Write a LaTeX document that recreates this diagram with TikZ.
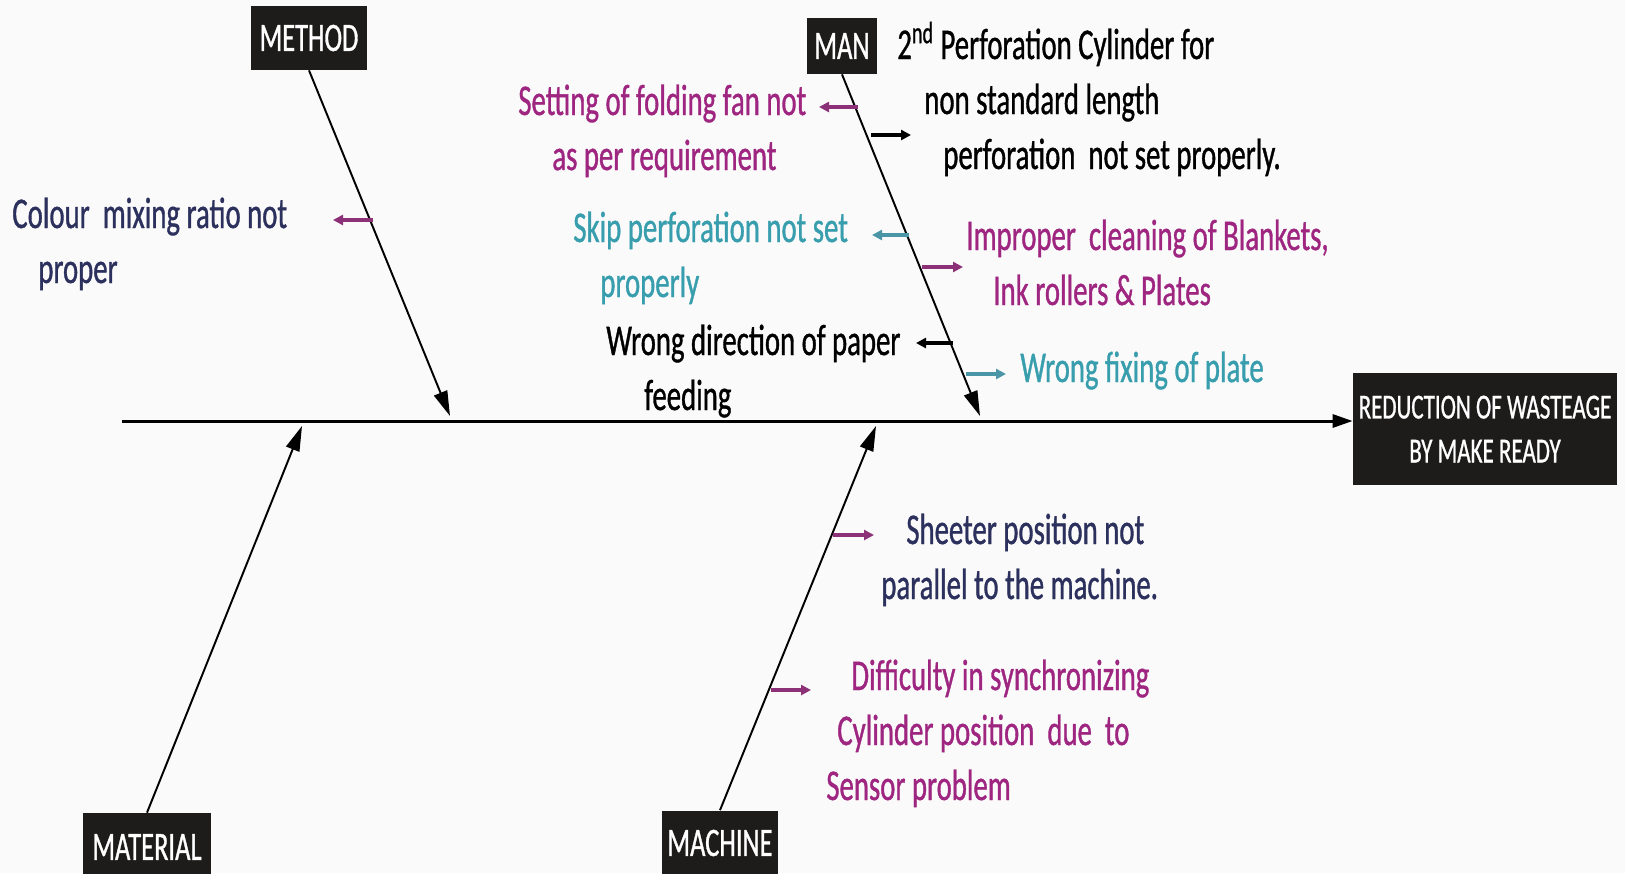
\documentclass[tikz,border=0pt]{standalone}
\usepackage{fontspec}
\setmainfont[FakeStretch=0.655,FakeBold=0.8]{Carlito}
\usetikzlibrary{arrows.meta}
\definecolor{navy}{RGB}{44,48,92}
\definecolor{plum}{RGB}{158,38,128}
\definecolor{sea}{RGB}{56,158,174}
\definecolor{plumarrow}{RGB}{140,48,120}
\definecolor{seaarrow}{RGB}{74,150,166}
\definecolor{boxblack}{RGB}{30,27,27}
\definecolor{paper}{RGB}{250,250,250}

\begin{document}
\begin{tikzpicture}[x=0.02cm,y=-0.02cm,
  head/.style={fill=boxblack, text=white, inner sep=0pt, font=\fontsize{23}{26}\selectfont},
  cause/.style={anchor=base west, align=left, inner sep=0pt, font=\fontsize{25}{31.3}\selectfont},
  bone/.style={line width=1.1pt, -{Triangle[length=0.5cm, width=0.28cm]}},
  twig/.style={line width=1.8pt, -{Triangle[length=0.2cm, width=0.2cm]}}]
  \clip (0,0) rectangle (1625,873);
  \fill[paper] (0,0) rectangle (1625,873);

  % category boxes
  \node[head, minimum width=2.32cm, minimum height=1.28cm] (method) at (309,38) {METHOD};
  \node[head, minimum width=1.4cm, minimum height=1.12cm] (man) at (842,46) {MAN};
  \node[head, minimum width=2.58cm, minimum height=1.36cm] (material) at (147,847) {MATERIAL};
  \node[head, minimum width=2.32cm, minimum height=1.3cm] (machine) at (720,843) {MACHINE};
  \node[head, minimum width=5.28cm, minimum height=2.24cm, align=center,
        font=\fontsize{20}{25}\selectfont] (result) at (1485,429) {REDUCTION OF WASTEAGE\\BY MAKE READY};

  % spine and bones
  \coordinate (tail) at (122,421);
  \coordinate (methodtip) at (450,416);
  \coordinate (mantip) at (980,416);
  \coordinate (materialtip) at (302,426);
  \coordinate (machinetip) at (876,426);
  \draw[line width=1.7pt, -{Triangle[length=0.4cm, width=0.26cm]}] (tail) -- (tail -| result.west);
  \draw[bone] (method.south) -- (methodtip);
  \draw[bone] (man.south) -- (mantip);
  \draw[bone] (material.north) -- (materialtip);
  \draw[bone] (machine.north) -- (machinetip);

  % causes (placed at the baseline of their last line)
  \node[cause, text=navy] (colour) at (12,283) {Colour\ \ mixing ratio not\\\hspace*{0.52cm}proper};
  \node[cause, text=plum] (fan) at (518,170) {Setting of folding fan not\\\hspace*{0.68cm}as per requirement};
  \node[cause, text=sea] (skip) at (573,297) {Skip perforation not set\\\hspace*{0.54cm}properly};
  \node[cause] (direction) at (606,410) {Wrong direction of paper\\\hspace*{0.76cm}feeding};
  \node[cause] (perf) at (897,169) {2\textsuperscript{nd} Perforation Cylinder for\\\hspace*{0.54cm}non standard length\\\hspace*{0.92cm}perforation\ \ not set properly.};
  \node[cause, text=plum] (cleaning) at (966,305) {Improper\ \ cleaning of Blankets,\\\hspace*{0.54cm}Ink rollers \& Plates};
  \node[cause, text=sea] (fixing) at (1020,382) {Wrong fixing of plate};
  \node[cause, text=navy] (sheeter) at (881,599) {\hspace*{0.5cm}Sheeter position not\\parallel to the machine.};
  \node[cause, text=plum] (sync) at (826,800) {\hspace*{0.5cm}Difficulty in synchronizing\\\hspace*{0.22cm}Cylinder position\ \ due\ \ to\\Sensor problem};

  % small arrows off the bones
  \coordinate (colourfrom) at (373,220);  \coordinate (colourto) at (333,220);
  \coordinate (fanfrom) at (858,107);     \coordinate (fanto) at (819,107);
  \coordinate (perffrom) at (871,135);    \coordinate (perfto) at (911,135);
  \coordinate (skipfrom) at (909,235);    \coordinate (skipto) at (872,235);
  \coordinate (cleanfrom) at (922,267);   \coordinate (cleanto) at (963,267);
  \coordinate (dirfrom) at (953,343);     \coordinate (dirto) at (916,343);
  \coordinate (fixfrom) at (966,374);     \coordinate (fixto) at (1006,374);
  \coordinate (sheetfrom) at (833,535);   \coordinate (sheetto) at (874,535);
  \coordinate (syncfrom) at (771,690);    \coordinate (syncto) at (811,690);
  \draw[twig, plumarrow] (colourfrom) -- (colourto);
  \draw[twig, plumarrow] (fanfrom) -- (fanto);
  \draw[twig] (perffrom) -- (perfto);
  \draw[twig, seaarrow] (skipfrom) -- (skipto);
  \draw[twig, plumarrow] (cleanfrom) -- (cleanto);
  \draw[twig] (dirfrom) -- (dirto);
  \draw[twig, seaarrow] (fixfrom) -- (fixto);
  \draw[twig, plumarrow] (sheetfrom) -- (sheetto);
  \draw[twig, plumarrow] (syncfrom) -- (syncto);
\end{tikzpicture}
\end{document}
